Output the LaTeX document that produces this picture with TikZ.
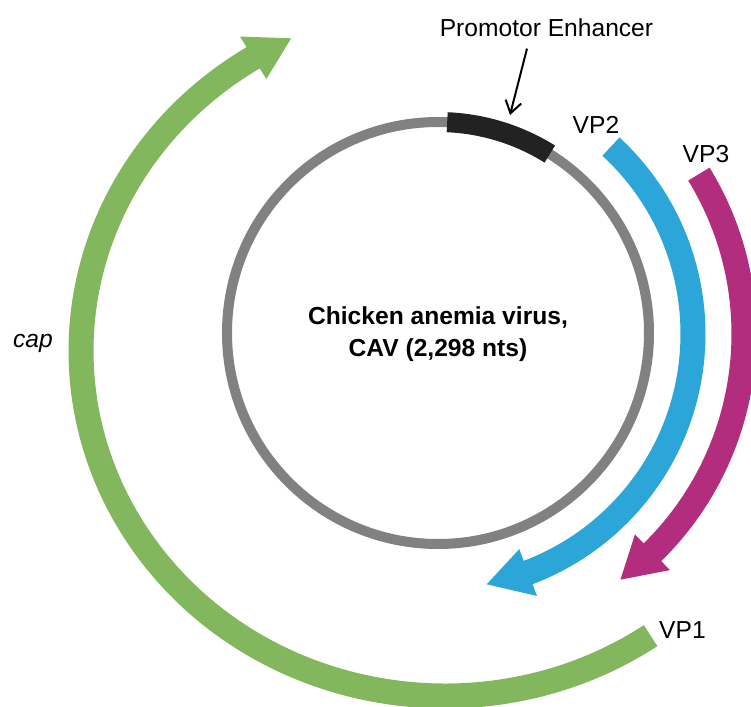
\documentclass[tikz,border=0pt]{standalone}
\usepackage{fontspec}
\setmainfont{Liberation Sans}
\usetikzlibrary{arrows.meta}

\definecolor{capgreen}{RGB}{131,183,93}
\definecolor{vpblue}{RGB}{44,166,216}
\definecolor{vpmagenta}{RGB}{178,45,125}
\definecolor{genomegray}{RGB}{128,130,130}
\definecolor{promblack}{RGB}{34,34,34}
\tikzstyle{orf}=[line width=5mm]
\tikzstyle{orfname}=[font=\fontsize{14}{17}\selectfont,inner sep=0pt,anchor=base]

\begin{document}
\begin{tikzpicture}[x=0.2mm,y=0.2mm]
  \useasboundingbox (-438,-373) rectangle (313,333);
  % genome ring and promoter/enhancer block
  \draw[genomegray,line width=2mm] (0,0) circle[radius=211];
  \draw[promblack,line width=4mm] (87.5:211) arc[start angle=87.5,end angle=58,radius=211];
  \node[font=\bfseries\fontsize{14}{18}\selectfont,align=center] (cav) at (0,-1)
    {Chicken anemia virus,\\CAV (2,298 nts)};
  % reading frames, all clockwise: colour/centre/radii/start/head base/tip
  \foreach \col/\ox/\oy/\rx/\ry/\a/\b/\t in {capgreen/7/-18/364/345/-55.6/-238.2/-245,
                                            vpblue/0/-1/255/255/47.3/-69.3/-79,
                                            vpmagenta/0/-1/306/306/31.5/-45.5/-53.4}
  {
    \pgfmathsetmacro\bb{\b-1}
    \begin{scope}[shift={(\ox,\oy)}]
      \draw[orf,\col] ({\rx*cos(\a)},{\ry*sin(\a)})
        arc[start angle=\a,end angle=\bb,x radius=\rx,y radius=\ry];
      \fill[\col] ({(\rx-25)*cos(\b)},{(\ry-25)*sin(\b)})
        -- ({\rx*cos(\t)},{\ry*sin(\t)})
        -- ({(\rx+25)*cos(\b)},{(\ry+25)*sin(\b)}) -- cycle;
    \end{scope}
  }
  % labels
  \node[orfname] (pe) at (108.5,297) {Promotor Enhancer};
  \coordinate (petip) at (72,218);
  \draw[-{Straight Barb[length=2.4mm,width=3.2mm]},line width=0.4mm]
    ([xshift=-3.9mm,yshift=-2.4mm]pe.south) -- (petip);
  \node[orfname] (vp2) at (158,200) {VP2};
  \node[orfname] (vp3) at (268,171) {VP3};
  \node[orfname] (vp1) at (244.5,-305) {VP1};
  \node[orfname,font=\itshape\fontsize{14}{17}\selectfont] (cap) at (-405,-14) {cap};
\end{tikzpicture}
\end{document}
